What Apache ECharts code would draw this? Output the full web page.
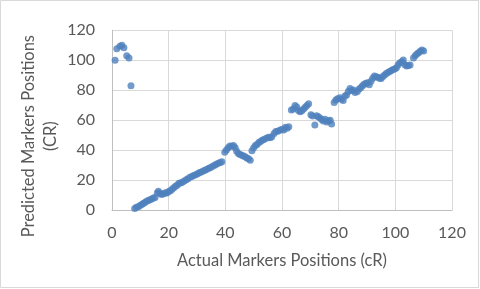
<!DOCTYPE html>
<html>
<head>
<meta charset="utf-8">
<script src="https://cdn.jsdelivr.net/npm/echarts@6/dist/echarts.min.js"></script>
<style>
html,body{margin:0;padding:0;background:#fff;}
#c{width:480px;height:289px;}
</style>
</head>
<body>
<div id="c"></div>
<script>
// Actual positions (cR)
var actual = [
1.1,1.7,2.8,3.5,4.2,5.2,6.0,6.7,
8.0,8.6,9.3,9.9,10.5,11.0,11.6,12.2,12.8,13.4,14.0,14.6,15.2,16.0,16.4,17.0,17.5,18.2,18.8,19.4,20.0,20.6,21.2,21.8,22.4,23.0,23.6,24.2,24.8,25.5,26.2,26.8,27.5,28.2,28.8,29.5,30.2,30.8,31.5,32.2,32.8,33.5,34.2,34.8,35.5,36.2,36.8,37.5,38.2,38.8,
39.8,40.4,41.0,41.6,42.3,42.9,43.5,44.0,44.6,45.2,45.8,46.4,47.0,47.6,48.2,48.8,
49.4,50.0,50.6,51.2,51.8,52.4,53.0,53.6,54.4,55.2,55.8,56.4,57.2,57.8,58.5,59.2,60.0,60.6,61.2,61.8,62.4,
63.3,64.0,64.6,65.2,65.8,66.4,67.0,67.6,68.2,68.8,69.4,70.2,70.8,71.6,72.2,72.8,73.4,74.0,74.6,75.2,75.8,76.4,77.0,77.5,
78.4,79.0,79.6,80.4,81.0,81.6,82.2,82.8,83.4,84.0,84.6,85.2,85.8,86.6,87.2,87.8,88.4,89.0,89.6,90.2,90.8,91.4,92.0,92.6,93.2,93.8,94.4,95.0,95.6,96.2,96.8,97.4,98.0,98.6,99.2,99.8,100.4,101.0,101.6,102.3,102.8,103.4,104.0,104.6,105.2,106.4,107.0,107.6,108.2,108.8,109.4,110.0
];
// Predicted positions (CR)
var predicted = [
100,107.7,109.4,110,108.3,103,101.5,83,
1.0,1.8,2.2,3.0,3.6,4.3,5.0,5.8,6.3,6.8,7.3,8.0,8.4,11.5,12.6,11.0,10.4,10.8,11.6,11.4,12.3,12.8,13.8,14.8,15.8,16.6,17.8,18.0,18.6,19.4,20.2,20.8,21.9,22.3,23.0,23.5,24.2,24.8,25.4,26.0,26.6,27.2,27.8,28.3,29.2,29.8,30.5,31.2,31.7,32.3,
38.5,40.0,41.5,42.7,42.6,43.1,41.5,39.2,37.8,37.0,36.5,36.0,35.6,34.8,34.2,33.3,
39.6,41.5,43.0,43.8,45.0,45.8,46.5,47.0,47.9,48.5,48.3,48.9,51.0,52.4,52.6,53.2,54.0,53.4,55.2,54.6,55.6,
66.7,67.5,69.8,68.8,66.5,65.6,66.2,67.4,68.6,69.8,71.0,63.6,62.8,56.8,63.0,62.3,61.5,60.4,59.4,60.6,58.8,59.6,60.0,57.5,
71.8,73.5,74.3,75.0,74.0,73.2,76.2,76.8,79.2,81.2,79.8,80.2,78.4,79.2,80.8,81.6,83.0,84.0,84.6,85.0,83.6,86.0,88.0,89.4,89.0,88.6,88.0,87.8,89.2,90.2,91.2,91.8,92.4,93.2,93.8,94.2,95.0,97.0,98.4,99.0,100.2,97.0,96.2,96.5,96.9,101.5,103.0,104.2,105.0,106.0,106.8,106.2
];
var xTicks = [0,20,40,60,80,100,120];
var yTicks = [0,20,40,60,80,100,120];
var xTitle = 'Actual Markers Positions (cR)';
var yTitle = 'Predicted Markers Positions\n(CR)';

var pts = actual.map(function(x,i){return [x, predicted[i]];});
var font = 'Lato, "Open Sans", "DejaVu Sans", sans-serif';
var chart = echarts.init(document.getElementById('c'), null, {renderer:'canvas'});
chart.setOption({
  animation:false,
  backgroundColor:'#ffffff',
  grid:{left:112, right:28, top:18, bottom:79, containLabel:false},
  graphic:[{type:'rect', shape:{x:0.5,y:0.5,width:478,height:287}, style:{fill:'none', stroke:'#D9D9D9', lineWidth:1}, silent:true, z:-1}],
  xAxis:{
    type:'value', min:xTicks[0], max:xTicks[xTicks.length-1], interval:xTicks[1]-xTicks[0],
    name:xTitle, nameLocation:'middle', nameGap:42, nameMoveOverlap:false,
    nameTextStyle:{color:'#595959', fontSize:16.5, fontFamily:font},
    axisLine:{show:true, lineStyle:{color:'#BFBFBF', width:1}},
    axisTick:{show:false},
    axisLabel:{color:'#595959', fontSize:16, fontFamily:font, margin:15},
    splitLine:{show:true, lineStyle:{color:'#D9D9D9', width:1}}
  },
  yAxis:{
    type:'value', min:yTicks[0], max:yTicks[yTicks.length-1], interval:yTicks[1]-yTicks[0],
    name:yTitle, nameLocation:'middle', nameGap:50, nameMoveOverlap:false,
    nameTextStyle:{color:'#595959', fontSize:16.5, fontFamily:font, lineHeight:22, padding:[0,32,0,0]},
    axisLine:{show:true, lineStyle:{color:'#BFBFBF', width:1}},
    axisTick:{show:false},
    axisLabel:{color:'#595959', fontSize:16, fontFamily:font, margin:17},
    splitLine:{show:true, lineStyle:{color:'#D9D9D9', width:1}}
  },
  series:[{
    type:'scatter', data:pts, symbol:'circle', symbolSize:7,
    itemStyle:{color:'#4F81BD'}
  }]
});
</script>
</body>
</html>
